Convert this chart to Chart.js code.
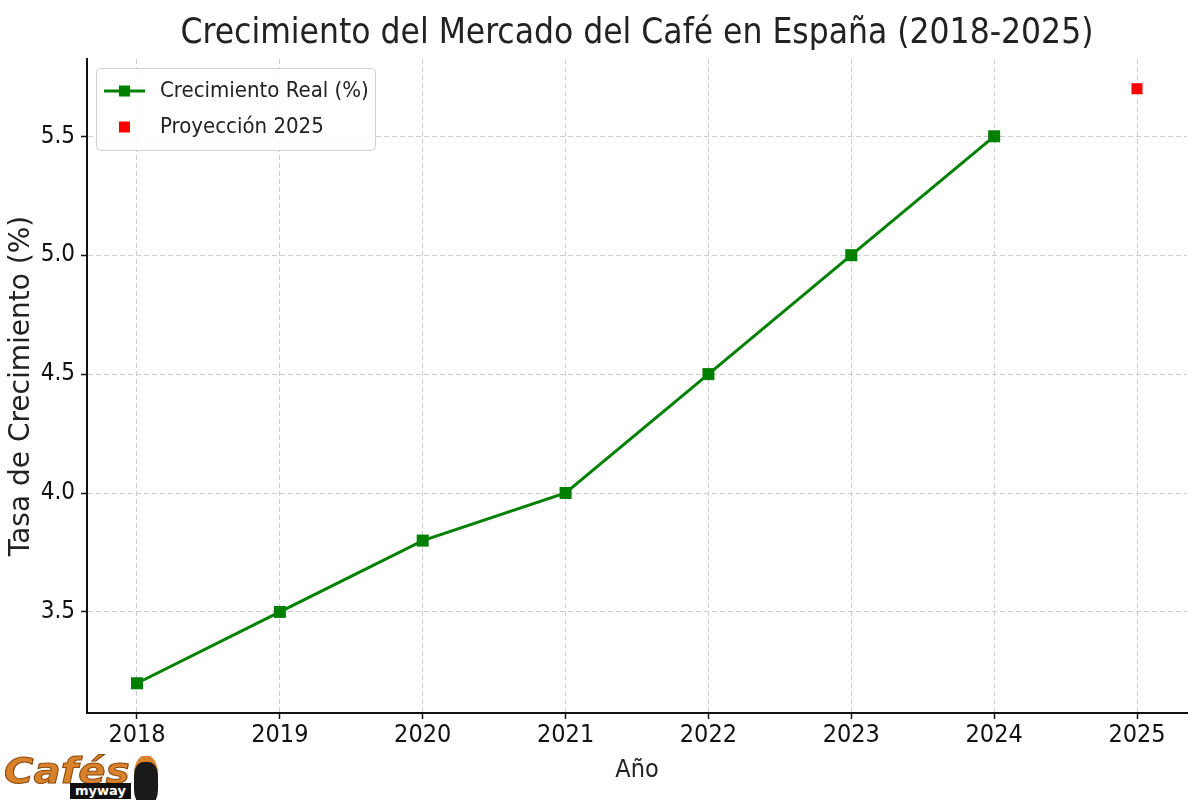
<!DOCTYPE html>
<html lang="es">
<head>
<meta charset="utf-8">
<title>Crecimiento del Mercado del Café en España</title>
<script src="https://cdn.jsdelivr.net/npm/chart.js@4.4.1/dist/chart.umd.min.js"></script>
<style>
    html, body { margin: 0; padding: 0; background: #fff; }
    #wrap { position: relative; width: 1200px; height: 800px; }
    #logo { position: absolute; left: 4px; top: 748px; width: 170px; height: 52px; }
    #logo .cafes {
        position: absolute; left: 0px; top: 2px;
        font-family: 'DejaVu Sans', sans-serif; font-weight: bold; font-style: italic;
        font-size: 36px; letter-spacing: 0px; color: #d9822b;
        transform: scaleX(1.12); transform-origin: left top;
        -webkit-text-stroke: 1px #8a4a10;
    }
    #logo .myway {
        position: absolute; left: 66px; top: 35px; padding: 0 5px;
        background: #111; color: #fff; font-family: 'DejaVu Sans', sans-serif;
        font-weight: bold; font-size: 13px; line-height: 16px;
    }
    #logo .cup {
        position: absolute; left: 130px; top: 8px; width: 24px; height: 42px;
        background: #1a1a1a; border-radius: 40% 40% 30% 30%;
        border-top: 6px solid #d9822b;
    }
</style>
</head>
<body>
<div id="wrap">
    <canvas id="cafeChart" width="1200" height="800"></canvas>
    <div id="logo"><span class="cafes">Cafés</span><span class="myway">myway</span><span class="cup"></span></div>
</div>
<script>
// Datos
const years = [2018, 2019, 2020, 2021, 2022, 2023, 2024];
const realGrowth = [3.2, 3.5, 3.8, 4.0, 4.5, 5.0, 5.5];
const projectionYear = [2025];
const projectionValue = [5.7];
const xTicks = [2018, 2019, 2020, 2021, 2022, 2023, 2024, 2025];
const yTicks = [3.5, 4.0, 4.5, 5.0, 5.5];

const condensed = "'DejaVu Sans Condensed', 'DejaVu Sans', sans-serif";
const normal = "'DejaVu Sans', sans-serif";

// Leyenda dentro del área del gráfico (estilo matplotlib)
const innerLegend = {
    id: 'innerLegend',
    afterDraw(chart) {
        const ctx = chart.ctx;
        const x = 96, y = 68, w = 279, h = 82;
        ctx.save();
        ctx.fillStyle = 'rgba(255,255,255,0.85)';
        ctx.strokeStyle = '#d0d0d0';
        ctx.lineWidth = 1;
        ctx.beginPath();
        ctx.roundRect(x + 0.5, y + 0.5, w, h, 4);
        ctx.fill();
        ctx.stroke();

        ctx.font = '22px ' + condensed;
        ctx.textBaseline = 'middle';
        ctx.fillStyle = '#222';

        chart.data.datasets.forEach((ds, i) => {
            const cy = y + 23 + i * 36;
            if (ds.showLine !== false) {
                ctx.strokeStyle = ds.borderColor;
                ctx.lineWidth = 3;
                ctx.beginPath();
                ctx.moveTo(104, cy);
                ctx.lineTo(145, cy);
                ctx.stroke();
            }
            ctx.fillStyle = ds.pointBackgroundColor;
            ctx.fillRect(119, cy - 5.5, 11, 11);
            ctx.fillStyle = '#222';
            ctx.fillText(ds.label, 160, cy);
        });
        ctx.restore();
    }
};

const gridOpts = {
    color: '#cccccc',
    lineWidth: 1,
    tickColor: '#111',
    tickLength: 6,
    tickWidth: 1.5,
    tickBorderDash: []
};

const ctx = document.getElementById('cafeChart');
new Chart(ctx, {
    type: 'line',
    data: {
        datasets: [{
            label: 'Crecimiento Real (%)',
            data: years.map((yr, i) => ({ x: yr, y: realGrowth[i] })),
            borderColor: '#008000',
            backgroundColor: '#008000',
            pointBackgroundColor: '#008000',
            pointBorderColor: '#008000',
            borderWidth: 3,
            pointStyle: 'rect',
            pointRadius: 8.5,
            pointBorderWidth: 0,
            tension: 0
        }, {
            label: 'Proyección 2025',
            data: projectionYear.map((yr, i) => ({ x: yr, y: projectionValue[i] })),
            showLine: false,
            borderColor: '#ff0000',
            backgroundColor: '#ff0000',
            pointBackgroundColor: '#ff0000',
            pointBorderColor: '#ff0000',
            pointStyle: 'rect',
            pointRadius: 7.8,
            pointBorderWidth: 0
        }]
    },
    options: {
        responsive: false,
        animation: false,
        layout: { padding: { left: 0, right: 13, top: 0, bottom: 0 } },
        plugins: {
            legend: { display: false },
            tooltip: { enabled: false },
            title: {
                display: true,
                text: 'Crecimiento del Mercado del Café en España (2018-2025)',
                fullSize: false,
                color: '#222',
                font: { family: condensed, size: 35, weight: 'normal', lineHeight: 1.2 },
                padding: { top: 13, bottom: 4 }
            }
        },
        scales: {
            x: {
                type: 'linear',
                min: 2017.65,
                max: 2025.35,
                afterFit: s => { s.height = 87; },
                afterBuildTicks: s => { s.ticks = xTicks.map(v => ({ value: v })); },
                ticks: {
                    color: '#111',
                    font: { family: condensed, size: 25 },
                    padding: 1,
                    maxRotation: 0,
                    callback: v => String(v)
                },
                grid: gridOpts,
                border: { display: true, color: '#111', width: 2, dash: [5, 3] },
                title: {
                    display: true,
                    text: 'Año',
                    color: '#222',
                    font: { family: condensed, size: 25, lineHeight: 1.2 },
                    padding: { top: 0, bottom: 15 }
                }
            },
            y: {
                type: 'linear',
                min: 3.075,
                max: 5.825,
                afterFit: s => { s.width = 87; },
                afterBuildTicks: s => { s.ticks = yTicks.map(v => ({ value: v })); },
                ticks: {
                    color: '#111',
                    font: { family: condensed, size: 24 },
                    padding: 6,
                    callback: v => v.toFixed(1)
                },
                grid: gridOpts,
                border: { display: true, color: '#111', width: 2, dash: [5, 3] },
                title: {
                    display: true,
                    text: 'Tasa de Crecimiento (%)',
                    color: '#222',
                    font: { family: normal, size: 28, lineHeight: 1.2 },
                    padding: { top: 5, bottom: 0 }
                }
            }
        }
    },
    plugins: [innerLegend]
});
</script>
</body>
</html>
